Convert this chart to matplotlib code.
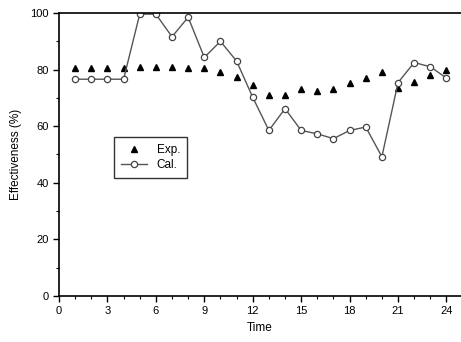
import matplotlib
matplotlib.use("Agg")
import matplotlib.pyplot as plt
from matplotlib.ticker import MultipleLocator

plt.rcParams['font.family'] = ['Liberation Sans', 'DejaVu Sans']

# time steps
time = list(range(1, 25))
# experimental effectiveness (%)
exp_vals = [80.5, 80.5, 80.5, 80.5, 81, 81, 81, 80.5, 80.4, 79.2, 77.5, 74.5,
            71, 71, 73, 72.3, 73, 75.2, 77, 79.2, 73.6, 75.7, 78.2, 79.9]
# calculated effectiveness (%)
cal_vals = [76.6, 76.6, 76.6, 76.6, 99.6, 99.6, 91.6, 98.5, 84.3, 90, 83, 70.2,
            58.5, 66.2, 58.5, 57.3, 55.6, 58.5, 59.7, 49.2, 75.4, 82.5, 81, 77]

fig = plt.figure(figsize=(4.61, 3.42), dpi=100)
ax = fig.add_axes([0.128, 0.1345, 0.872, 0.8275])

ax.plot(time, exp_vals, linestyle='none', marker='^', color='black',
        markersize=5, label='Exp.')
ax.plot(time, cal_vals, color='#555555', linewidth=1.0, marker='o',
        markersize=4.5, markerfacecolor='white', markeredgecolor='#444444',
        markeredgewidth=0.9, label='Cal.')

ax.set_xlim(0, 24.9)
ax.set_ylim(0, 100)
ax.xaxis.set_major_locator(MultipleLocator(3))
ax.xaxis.set_minor_locator(MultipleLocator(1))
ax.yaxis.set_major_locator(MultipleLocator(20))
ax.yaxis.set_minor_locator(MultipleLocator(10))
ax.tick_params(which='major', direction='out', length=4, width=1, labelsize=8)
ax.tick_params(which='minor', direction='out', length=2, width=0.8)
ax.spines['right'].set_visible(False)
for s in ['left', 'bottom', 'top']:
    ax.spines[s].set_linewidth(1.2)

ax.set_xlabel('Time', fontsize=8.5, labelpad=4)
ax.set_ylabel('Effectiveness (%)', fontsize=8.5, labelpad=6)

leg = ax.legend(loc='upper left', bbox_to_anchor=(0.137, 0.562), fontsize=8.5,
                frameon=True, fancybox=False, edgecolor='black',
                handlelength=2.2, borderpad=0.6, labelspacing=0.25,
                borderaxespad=0)
leg.get_frame().set_linewidth(1.0)

plt.savefig('out.png', dpi=100)
